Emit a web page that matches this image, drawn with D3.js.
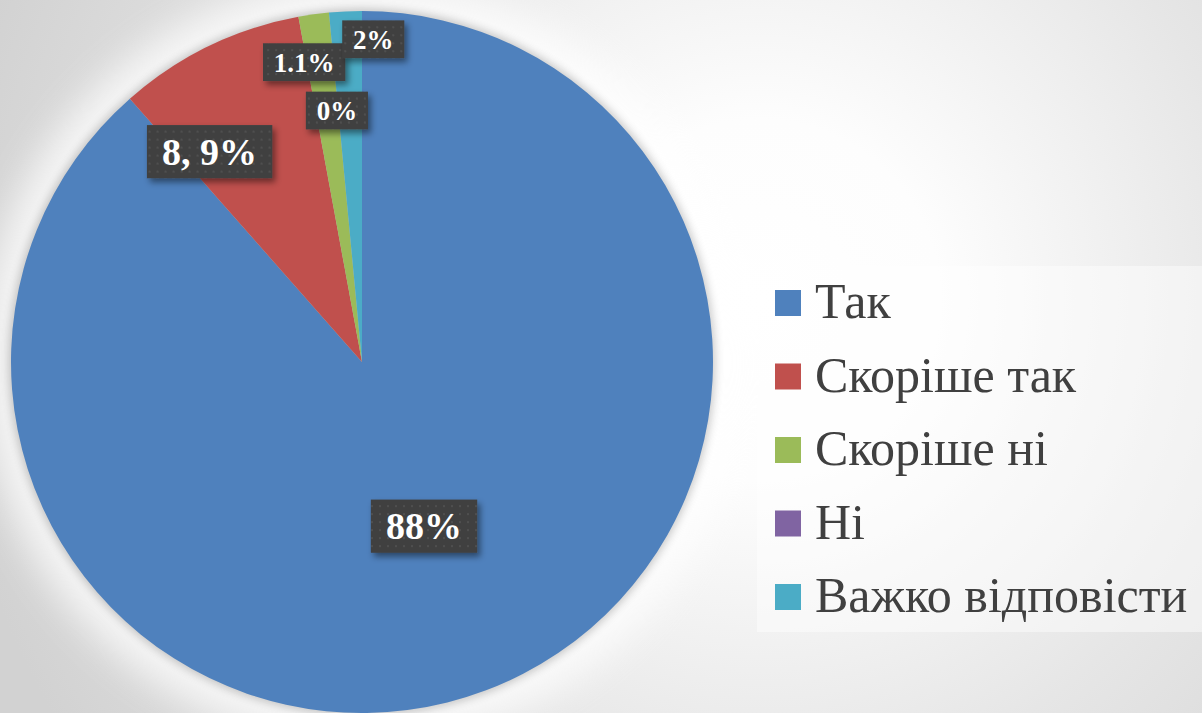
<!DOCTYPE html>
<html>
<head>
<meta charset="utf-8">
<script src="https://cdn.jsdelivr.net/npm/d3@7"></script>
<style>
  body { margin: 0; overflow: hidden; }
  svg { display: block; }
</style>
</head>
<body>
<div id="chart"></div>
<script>
// data
var categories = ['Так', 'Скоріше так', 'Скоріше ні', 'Ні', 'Важко відповісти'];
var shares = [88.5, 8.6, 1.4, 0, 1.5];           // slice sizes as drawn
var labels = ['88%', '8, 9%', '1.1%', '0%', '2%']; // label text as shown
var colors = ['#4f81bd', '#c0504d', '#9bbb59', '#8064a2', '#4bacc6'];

var width = 1202, height = 713;
var cx = 362, cy = 362, radius = 351;

// label placement: angle shift (deg) from slice middle, radius fraction, font size
var labelLayout = [
    { da: 0, rf: 0.50, size: 38 },
    { da: -10, rf: 0.74, size: 38 },
    { da: -3, rf: 0.87, size: 27 },
    { da: -0.3, rf: 0.72, size: 27 },
    { da: 4.7, rf: 0.92, size: 27 }
];

var svg = d3.select('#chart').append('svg')
    .attr('width', width)
    .attr('height', height);

var defs = svg.append('defs');

var bg = defs.append('radialGradient').attr('id', 'bg')
    .attr('gradientUnits', 'userSpaceOnUse')
    .attr('cx', 760).attr('cy', 300).attr('r', 820);
bg.append('stop').attr('offset', '0').attr('stop-color', '#ffffff');
bg.append('stop').attr('offset', '0.22').attr('stop-color', '#fdfdfd');
bg.append('stop').attr('offset', '0.6').attr('stop-color', '#e6e6e6');
bg.append('stop').attr('offset', '1').attr('stop-color', '#d2d2d2');

var glow = defs.append('filter').attr('id', 'glow')
    .attr('x', '-30%').attr('y', '-30%').attr('width', '160%').attr('height', '160%');
glow.append('feGaussianBlur').attr('stdDeviation', 18);

var shadow = defs.append('filter').attr('id', 'pieShadow')
    .attr('x', '-10%').attr('y', '-10%').attr('width', '120%').attr('height', '120%');
shadow.append('feGaussianBlur').attr('stdDeviation', 5);

var boxShadow = defs.append('filter').attr('id', 'boxShadow')
    .attr('x', '-20%').attr('y', '-30%').attr('width', '150%').attr('height', '170%');
boxShadow.append('feDropShadow')
    .attr('dx', 3).attr('dy', 4).attr('stdDeviation', 3)
    .attr('flood-color', '#000').attr('flood-opacity', 0.45);

var dots = defs.append('pattern').attr('id', 'dots')
    .attr('patternUnits', 'userSpaceOnUse')
    .attr('width', 8).attr('height', 8);
dots.append('rect').attr('width', 8).attr('height', 8).attr('fill', '#404040');
dots.append('rect').attr('x', 3).attr('y', 3).attr('width', 2).attr('height', 2).attr('fill', '#505050');

svg.append('rect')
    .attr('width', width).attr('height', height)
    .attr('fill', 'url(#bg)');

// pie
var pieG = svg.append('g').attr('transform', 'translate(' + cx + ',' + cy + ')');

pieG.append('circle')
    .attr('r', radius + 30)
    .attr('fill', '#ffffff')
    .attr('opacity', 0.75)
    .attr('filter', 'url(#glow)');

pieG.append('circle')
    .attr('r', radius + 2)
    .attr('fill', '#000')
    .attr('opacity', 0.22)
    .attr('filter', 'url(#pieShadow)');

var pie = d3.pie().sort(null).value(function (d) { return d; });
var arcs = pie(shares);

var arc = d3.arc().innerRadius(0).outerRadius(radius);

pieG.selectAll('path.slice')
    .data(arcs)
    .enter()
    .append('path')
    .attr('class', 'slice')
    .attr('fill', function (d, i) { return colors[i]; })
    .attr('d', arc);

// data labels
var labelG = pieG.selectAll('g.lbl')
    .data(arcs)
    .enter()
    .append('g')
    .attr('class', 'lbl')
    .attr('transform', function (d, i) {
        var L = labelLayout[i];
        var a = (d.startAngle + d.endAngle) / 2 + L.da * Math.PI / 180;
        var r = radius * L.rf;
        return 'translate(' + (Math.sin(a) * r) + ',' + (-Math.cos(a) * r) + ')';
    });

labelG.each(function (d, i) {
    var g = d3.select(this);
    var L = labelLayout[i];
    var box = g.append('rect').attr('fill', 'url(#dots)').attr('filter', 'url(#boxShadow)');
    var t = g.append('text')
        .attr('text-anchor', 'middle')
        .attr('dy', '0.35em')
        .attr('fill', '#ffffff')
        .attr('font-family', '"Liberation Serif", "DejaVu Serif", serif')
        .attr('font-weight', 'bold')
        .attr('font-size', L.size)
        .text(labels[i]);
    var w = t.node().getComputedTextLength();
    var padX = L.size * 0.4, h = L.size * 1.4;
    box.attr('x', -w / 2 - padX).attr('y', -h / 2)
        .attr('width', w + padX * 2).attr('height', h);
});

// legend
var legendG = svg.append('g');
legendG.append('rect')
    .attr('x', 757).attr('y', 266)
    .attr('width', width - 757).attr('height', 366)
    .attr('fill', '#ffffff').attr('opacity', 0.45);

var rowY = d3.scalePoint().domain(categories).range([318, 612]);

var item = legendG.selectAll('g.item')
    .data(categories)
    .enter()
    .append('g')
    .attr('class', 'item')
    .attr('transform', function (d) { return 'translate(775,' + rowY(d) + ')'; });

item.append('rect')
    .attr('x', 0).attr('y', -28)
    .attr('width', 26).attr('height', 26)
    .attr('fill', function (d, i) { return colors[i]; });

item.append('text')
    .attr('x', 40)
    .attr('fill', '#404040')
    .attr('font-family', '"Liberation Serif", "DejaVu Serif", serif')
    .attr('font-size', 50)
    .text(function (d) { return d; });
</script>
</body>
</html>
